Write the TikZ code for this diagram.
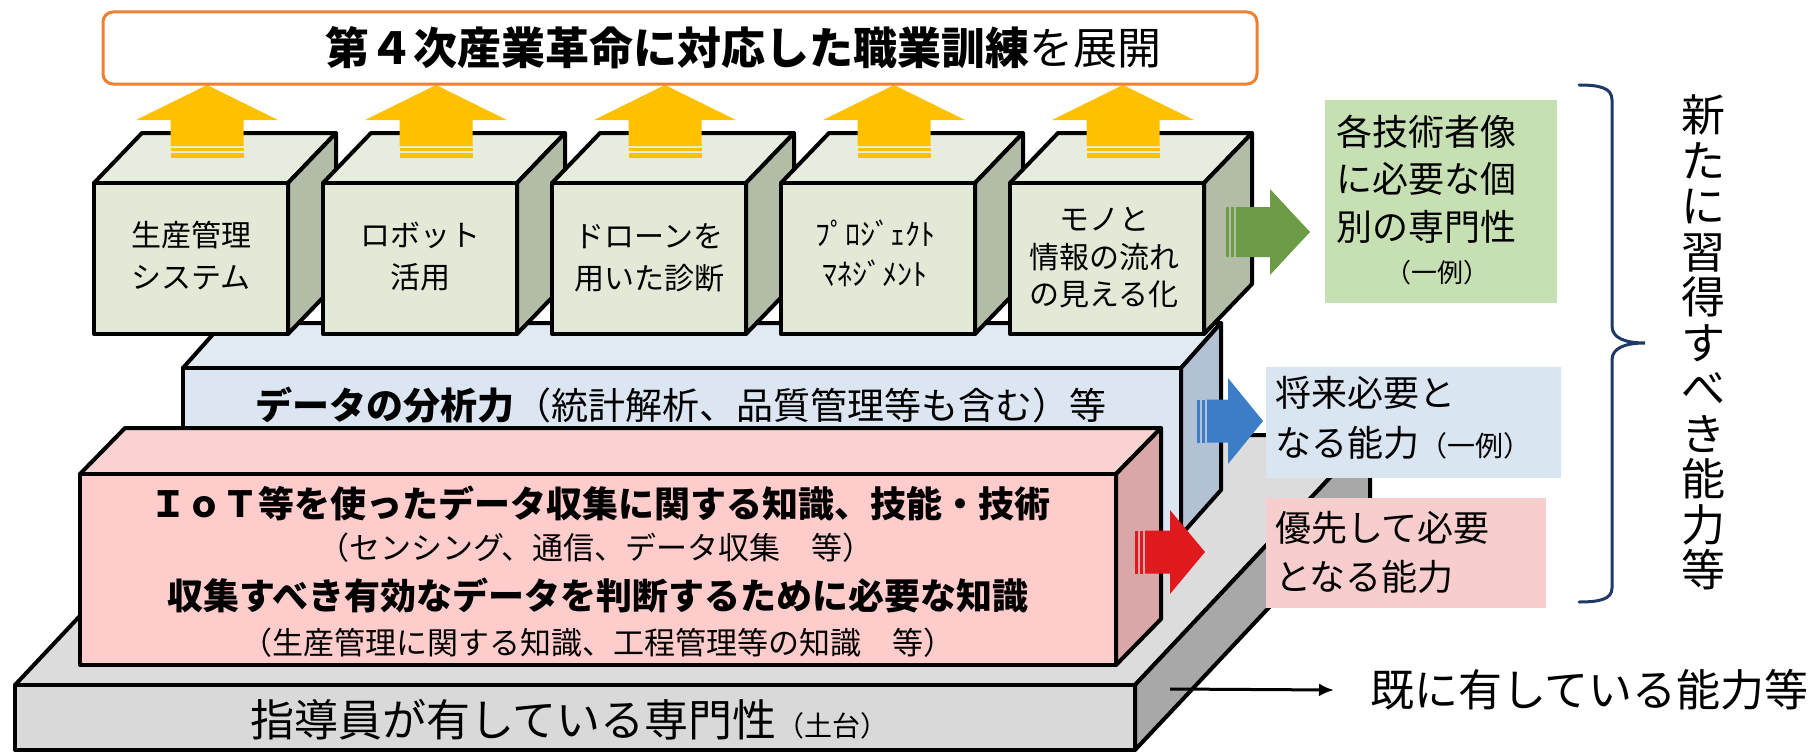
\documentclass[tikz,border=0pt]{standalone}
\usepackage{fontspec}
\setmainfont{Noto Sans CJK JP}
\usetikzlibrary{arrows.meta}
\definecolor{bannerorange}{HTML}{F07F32}
\definecolor{arrowyellow}{HTML}{FFC000}
\definecolor{cubefront}{HTML}{E2EAD7}
\definecolor{cubetop}{HTML}{E7EDDE}
\definecolor{cubeside}{HTML}{B3BCA6}
\definecolor{bluefront}{HTML}{DCE6F2}
\definecolor{bluetop}{HTML}{E1E9F3}
\definecolor{blueside}{HTML}{B2C1D3}
\definecolor{pinkfront}{HTML}{FFCCCC}
\definecolor{pinktop}{HTML}{FBD2D2}
\definecolor{pinkside}{HTML}{D9A7A7}
\definecolor{slabfront}{HTML}{D9D9D9}
\definecolor{slabtop}{HTML}{DCDCDC}
\definecolor{slabside}{HTML}{A8A8A8}
\definecolor{greenlabel}{HTML}{C6E0B4}
\definecolor{bluelabel}{HTML}{DAE5F2}
\definecolor{pinklabel}{HTML}{F8CDCD}
\definecolor{greenarrow}{HTML}{6C9C45}
\definecolor{bluearrow}{HTML}{3B7DC6}
\definecolor{redarrow}{HTML}{E0191F}
\definecolor{bracecol}{HTML}{1F3A68}
\newcommand{\setfs}[2]{\fontsize{#1}{#2}\selectfont}
% front top-left (#1,#2), front bottom-right (#3,#4), depth (#5,#6), colours front/top/side
\newcommand{\drawcuboid}[9]{%
  \filldraw[fill=#8, boxline] (#1,#2) -- ({#1+(#5)},{#2+(#6)}) -- ({#3+(#5)},{#2+(#6)}) -- (#3,#2) -- cycle;
  \filldraw[fill=#9, boxline] (#3,#2) -- ({#3+(#5)},{#2+(#6)}) -- ({#3+(#5)},{#4+(#6)}) -- (#3,#4) -- cycle;
  \filldraw[fill=#7, boxline] (#1,#2) rectangle (#3,#4);
}
% upward striped arrow, centre x = #1
\newcommand{\uparrowstriped}[1]{%
  \fill[arrowyellow] ({#1-71},120) -- (#1,85) -- ({#1+71},120) -- ({#1+36.5},120) -- ({#1+36.5},146) -- ({#1-36.5},146) -- ({#1-36.5},120) -- cycle;
  \fill[arrowyellow] ({#1-36.5},148) rectangle ({#1+36.5},151);
  \fill[arrowyellow] ({#1-36.5},153) rectangle ({#1+36.5},158);
}
% rightward striped arrow: xstart, xheadbase, xtip, ycentre, shaft half, head half, colour
\newcommand{\rightarrowstriped}[7]{%
  \fill[#7] (#1,{#4-#5}) rectangle ({#1+3},{#4+#5});
  \fill[#7] ({#1+5},{#4-#5}) rectangle ({#1+8},{#4+#5});
  \fill[#7] ({#1+10},{#4-#5}) -- (#2,{#4-#5}) -- (#2,{#4-#6}) -- (#3,#4) -- (#2,{#4+#6}) -- (#2,{#4+#5}) -- ({#1+10},{#4+#5}) -- cycle;
}
\tikzset{
  boxline/.style={draw=black, line width=4, line join=round},
  lbl/.style={inner sep=0pt, outer sep=0pt},
  labelbox/.style={inner sep=0pt, outer sep=0pt, draw=none},
  cubetext/.style={inner sep=0pt, outer sep=0pt, align=center, font=\setfs{30}{42}},
}
\begin{document}
\begin{tikzpicture}[x=1pt,y=-1pt]
\useasboundingbox (0,0) rectangle (1820,752);
\fill[white] (0,0) rectangle (1820,752);

% base slab
\drawcuboid{15}{685}{1135}{750}{235}{-250}{slabfront}{slabtop}{slabside}
% blue layer
\drawcuboid{183}{368}{1181}{535}{40}{-45}{bluefront}{bluetop}{blueside}
% pink layer
\drawcuboid{80}{474}{1116}{665}{45}{-46}{pinkfront}{pinktop}{pinkside}
% cubes
\foreach \i in {0,...,4}{
  \pgfmathsetmacro\xa{94+229*\i}
  \pgfmathsetmacro\xb{\xa+194}
  \drawcuboid{\xa}{183}{\xb}{334}{48}{-50}{cubefront}{cubetop}{cubeside}
}
% yellow arrows
\foreach \i in {0,...,4}{
  \pgfmathsetmacro\cx{207+229*\i}
  \uparrowstriped{\cx}
}
% banner
\node[labelbox, draw=bannerorange, line width=3, fill=white, rounded corners=10,
      minimum width=1154, minimum height=72] (banner) at (680,48) {};
\node[lbl, font=\setfs{44}{48}] (bannertext) at (743,48) {{\bfseries 第４次産業革命に対応した職業訓練}を展開};

% cube texts
\node[cubetext] (cubeA) at (191,256) {生産管理\\システム};
\node[cubetext] (cubeB) at (420,256) {ロボット\\活用};
\node[cubetext] (cubeC) at (649,258) {ドローンを\\用いた診断};
\node[cubetext, font=\setfs{30}{40}] (cubeD) at (875,253) {ﾌﾟﾛｼﾞｪｸﾄ\\ﾏﾈｼﾞﾒﾝﾄ};
\node[cubetext, font=\setfs{30}{37.5}] (cubeE) at (1104,258) {モノと\\情報の流れ\\の見える化};

% layer texts
\node[lbl, font=\setfs{37}{40}] (bluetext) at (681,405) {{\bfseries データの分析力}（統計解析、品質管理等も含む）等};
\node[lbl, font=\setfs{36}{40}\bfseries] (pinkA) at (600,503) {ＩｏＴ等を使ったデータ収集に関する知識、技能・技術};
\node[lbl, font=\setfs{31}{36}] (pinkB) at (596,548) {（センシング、通信、データ収集　等）};
\node[lbl, font=\setfs{36}{40}\bfseries] (pinkC) at (598,595) {収集すべき有効なデータを判断するために必要な知識};
\node[lbl, font=\setfs{31}{36}] (pinkD) at (598,643) {（生産管理に関する知識、工程管理等の知識　等）};
\node[lbl, font=\setfs{44}{48}, anchor=west] (slabtext) at (250,720) {指導員が有している専門性{\setfs{28}{30}（土台）}};

% label boxes
\node[labelbox, fill=greenlabel, minimum width=232, minimum height=203] (greenbox) at (1441,201.5) {};
\node[labelbox, fill=bluelabel, minimum width=295, minimum height=111] (bluebox) at (1413.5,422.5) {};
\node[labelbox, fill=pinklabel, minimum width=280, minimum height=110] (pinkbox) at (1406,553) {};
\node[lbl, font=\setfs{36}{47.5}, align=center] (greentext) at (1426,179) {各技術者像\\に必要な個\\別の専門性};
\node[lbl, font=\setfs{26}{30}] (greenex) at (1437,273) {（一例）};
\node[lbl, font=\setfs{36}{40}, anchor=west] (blueA) at (1275,393) {将来必要と};
\node[lbl, font=\setfs{36}{40}, anchor=west] (blueB) at (1275,443) {なる能力{\setfs{28}{32}（一例）}};
\node[lbl, font=\setfs{36}{40}, anchor=west] (pinkLA) at (1275,528) {優先して必要};
\node[lbl, font=\setfs{36}{40}, anchor=west] (pinkLB) at (1275,577) {となる能力};

% striped side arrows
\rightarrowstriped{1226}{1270}{1310}{232}{25}{43}{greenarrow}
\rightarrowstriped{1197}{1228}{1263}{421}{21.5}{43}{bluearrow}
\rightarrowstriped{1135}{1170}{1205}{552}{21.5}{42}{redarrow}

% brace and vertical text
\draw[bracecol, line width=3, line cap=round] (1579,85) .. controls (1600,85) and (1612,88) .. (1612,100)
  -- (1612,326) .. controls (1612,338) and (1625,343) .. (1645,343)
  .. controls (1625,343) and (1612,348) .. (1612,360)
  -- (1612,588) .. controls (1612,599) and (1600,602) .. (1579,602);
\node[lbl, font=\setfs{44}{45.5}, align=center] (newskills) at (1703,342.5) {新\\た\\に\\習\\得\\す\\べ\\き\\能\\力\\等};

% already-held arrow
\node[lbl, font=\setfs{44}{48}, anchor=west] (existing) at (1370,690) {既に有している能力等};
\coordinate (slabarrowstart) at (1170,689);
\draw[line width=3, -{Latex[length=15,width=13]}] (slabarrowstart) -- ([xshift=-36]existing.west);
\end{tikzpicture}
\end{document}
